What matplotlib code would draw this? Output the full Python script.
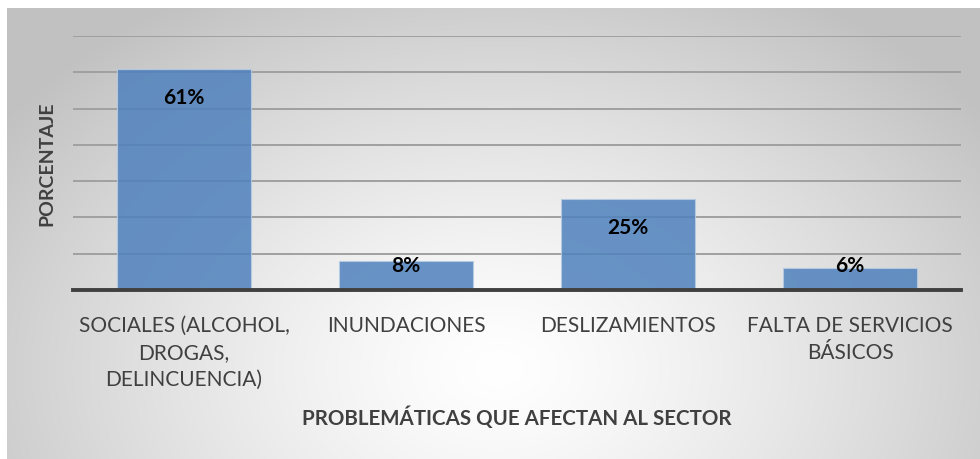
import numpy as np
import matplotlib
matplotlib.use("Agg")
import matplotlib.pyplot as plt

categories = ["SOCIALES (ALCOHOL,\nDROGAS,\nDELINCUENCIA)", "INUNDACIONES",
              "DESLIZAMIENTOS", "FALTA DE SERVICIOS\nBÁSICOS"]
values = [61, 8, 25, 6]
value_labels = ["61%", "8%", "25%", "6%"]

W, H = 980, 459
fig = plt.figure(figsize=(W / 100, H / 100), dpi=100)
fig.patch.set_facecolor("white")

# background radial gradient
bg = fig.add_axes([7 / W, 0, 1 - 7 / W, 1 - 8 / H], zorder=0)
yy, xx = np.mgrid[0:451, 0:973]
cx, cy, rx, ry = 490, 360, 600, 430
t = np.sqrt(((xx - cx) / rx) ** 2 + ((yy - cy) / ry) ** 2)
t = np.clip(t, 0, 1)
g = 1.0 - (1.0 - 0.76) * t ** 1.3
img = np.dstack([g, g, g])
bg.imshow(img, aspect="auto", extent=[0, 1, 0, 1], origin="upper")
bg.set_axis_off()

ax = fig.add_axes([73 / W, 169 / H, 888 / W, (423 - 169) / H], zorder=1)
ax.patch.set_alpha(0)
x = np.arange(len(categories))
ax.bar(x, values, width=0.6, color="#4F81BD", alpha=0.85,
       edgecolor="#b8cce4", linewidth=0.8, zorder=2)
ax.set_xlim(-0.5, len(categories) - 0.5)
ax.set_ylim(0, 70)
ax.set_yticks(np.arange(0, 71, 10))
ax.yaxis.grid(True, color="#a0a0a0", linewidth=1.4, zorder=1)
ax.set_axisbelow(True)
ax.tick_params(axis="y", left=False, labelleft=False)
ax.tick_params(axis="x", bottom=False, pad=15)
for s in ["top", "right", "left"]:
    ax.spines[s].set_visible(False)
ax.spines["bottom"].set_color("#404040")
ax.spines["bottom"].set_linewidth(2.8)
ax.spines["bottom"].set_zorder(3)

ax.set_xticks(x)
ax.set_xticklabels(categories, fontsize=15, color="#404040",
                   family="Lato", linespacing=1.45)

for xi, v, lab in zip(x, values, value_labels):
    ly = max(v - 8, 6.5)
    ax.text(xi, ly, lab, ha="center", va="center", fontsize=15,
            fontweight="bold", color="black", family="Lato", zorder=4)

fig.text(47 / W, 1 - 164 / H, "PORCENTAJE", rotation=90, ha="center",
         va="center", fontsize=14, fontweight="bold", color="#404040",
         family="Lato")
fig.text(517 / W, 1 - 418 / H, "PROBLEMÁTICAS QUE AFECTAN AL SECTOR",
         ha="center", va="center", fontsize=14.8, fontweight="bold",
         color="#404040", family="Lato")

fig.savefig("out.png", dpi=100)
